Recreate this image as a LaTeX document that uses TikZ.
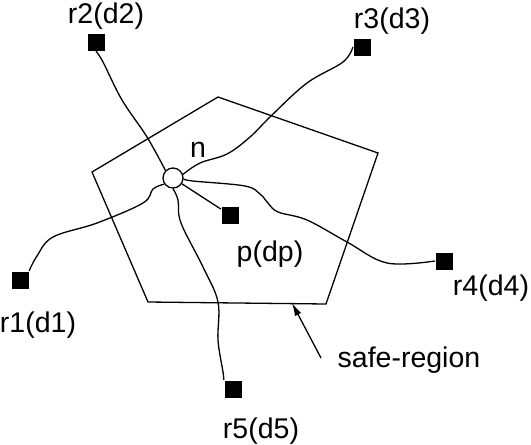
\documentclass[tikz,border=0pt]{standalone}
\usepackage{fontspec}
\setmainfont{Liberation Sans}
\usetikzlibrary{arrows.meta}
\begin{document}
\begin{tikzpicture}[x=1pt,y=-1pt,line width=1.3pt]
\tikzset{
  rsq/.style={fill=black,draw=none,minimum size=17pt,inner sep=0pt},
  lbl/.style={font=\fontsize{28.5}{33}\selectfont,inner sep=0pt},
  wire/.style={line width=1.3pt}
}
\useasboundingbox (0,0) rectangle (531,445);
% safe region
\draw (218,97) -- (378,153) -- (326,304) -- (148,302) -- (92,172) -- cycle;
% nodes
\node[circle,draw,fill=white,minimum size=20pt,inner sep=0pt] (n) at (173,178) {};
\node[rsq] (r1) at (20,280) {};
\node[rsq] (r2) at (96,42) {};
\node[rsq] (r3) at (362,47) {};
\node[rsq] (r4) at (444,261) {};
\node[rsq] (r5) at (233,389) {};
\node[rsq] (p) at (230,215) {};
% labels
\node[lbl] (ln) at (198,150) {n};
\node[lbl] (l1) at (38,325) {r1(d1)};
\node[lbl] (l2) at (106,16) {r2(d2)};
\node[lbl] (l3) at (392,21) {r3(d3)};
\node[lbl] (l4) at (491,288) {r4(d4)};
\node[lbl] (l5) at (261,431) {r5(d5)};
\node[lbl] (lp) at (270,254) {p(dp)};
\node[lbl] (ls) at (409,360) {safe-region};
% wires
\draw[wire] plot[smooth,tension=0.6] coordinates {(r2.south) (103,62) (122,100) (147,137) (n.north west)};
\draw[wire] plot[smooth,tension=0.6] coordinates {(n.20) (200,163) (227,154) (250,137) (272,115) (307,83) (343,62) (r3.west)};
\draw[wire] plot[smooth,tension=0.6] coordinates {(n.-5) (193,181) (245,186) (260,194) (268,203) (278,212) (307,220) (347,242) (387,263) (r4.west)};
\draw[wire] (n) -- (p);
\draw[wire] plot[smooth,tension=0.6] coordinates {(n.215) (153,189) (143,203) (97,223) (53,237) (37,256) (r1.north east)};
\draw[wire] plot[smooth,tension=0.6] coordinates {(n.south) (178,200) (181,223) (203,267) (218,302) (218,340) (223,372) (r5.north west)};
% arrow
\coordinate (as) at (321,358);
\coordinate (at) at (292,303);
\draw[-{Latex[length=13pt,width=7pt]}] (as) -- (at);
\end{tikzpicture}
\end{document}
